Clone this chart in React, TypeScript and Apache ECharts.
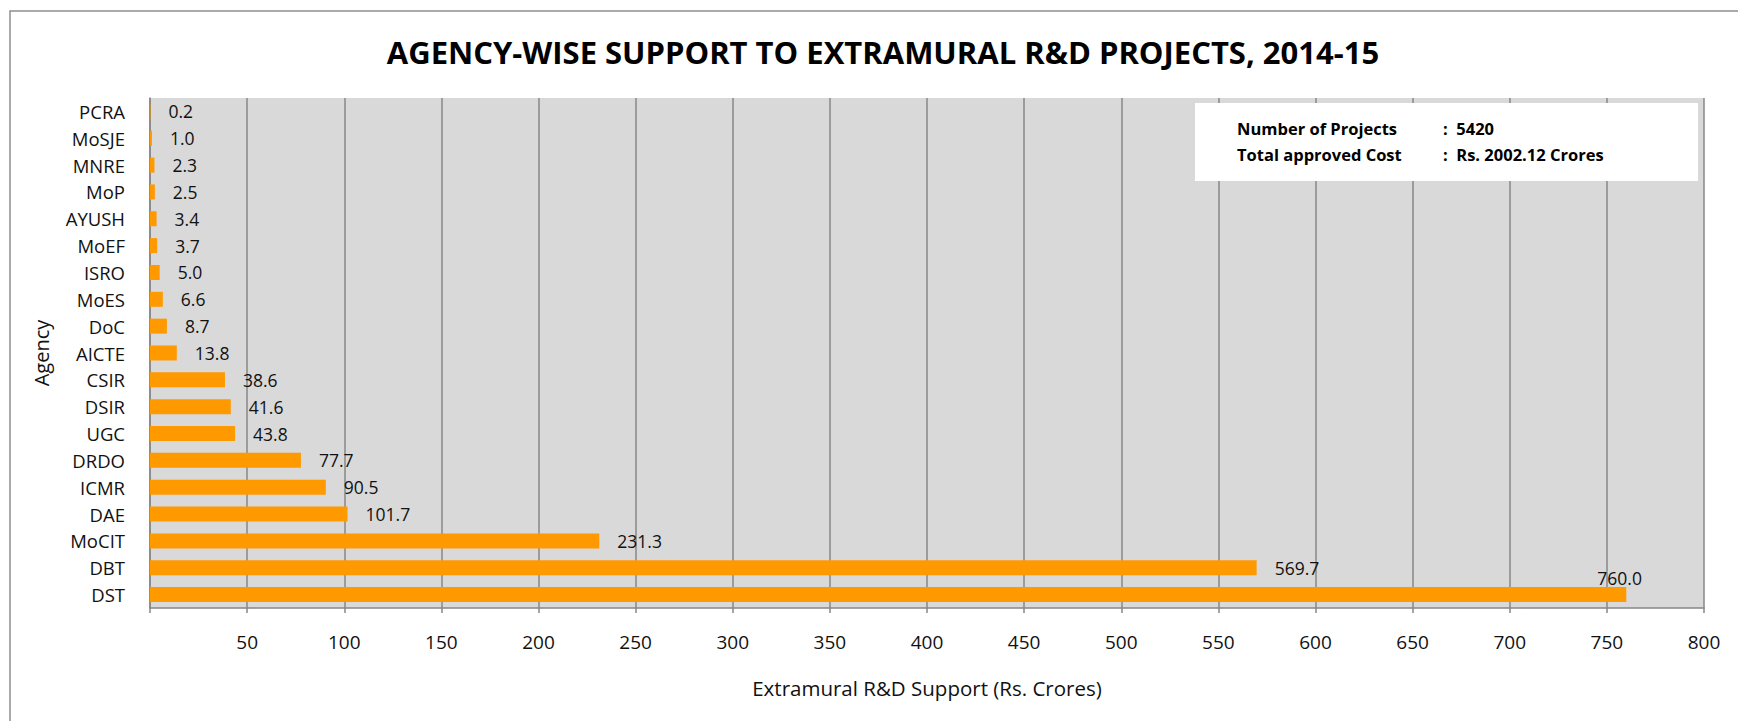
import React, { useEffect, useRef } from "react";
import * as echarts from "echarts";

const categories = [
  "DST", "DBT", "MoCIT", "DAE", "ICMR", "DRDO", "UGC", "DSIR", "CSIR", "AICTE",
  "DoC", "MoES", "ISRO", "MoEF", "AYUSH", "MoP", "MNRE", "MoSJE", "PCRA",
];
const values = [
  760.0, 569.7, 231.3, 101.7, 90.5, 77.7, 43.8, 41.6, 38.6, 13.8,
  8.7, 6.6, 5.0, 3.7, 3.4, 2.5, 2.3, 1.0, 0.2,
];
const xTicks = { min: 0, max: 800, interval: 50 };
const titleText = "AGENCY-WISE SUPPORT TO EXTRAMURAL R&D PROJECTS, 2014-15";
const infoLabels = ["Number of Projects", "Total approved Cost"];
const infoValues = [":  5420", ":  Rs. 2002.12 Crores"];

const FONT = "'Open Sans', 'Noto Sans', sans-serif";
const GRID_COLOR = "#878787";

export default function App() {
  const ref = useRef<HTMLDivElement>(null);

  useEffect(() => {
    if (!ref.current) return;
    const chart = echarts.init(ref.current, undefined, { renderer: "svg" });

    const data = values.map((v, i) => {
      if (categories[i] === "DST") {
        return {
          value: v,
          label: { offset: [-47, -17] },
        };
      }
      return v;
    });

    chart.setOption({
      animation: false,
      backgroundColor: "#ffffff",
      textStyle: { fontFamily: FONT },
      grid: { left: 150, right: 34, top: 98, bottom: 113, containLabel: false },
      xAxis: {
        type: "value",
        min: xTicks.min,
        max: xTicks.max,
        interval: xTicks.interval,
        name: "Extramural R&D Support (Rs. Crores)",
        nameLocation: "middle",
        nameGap: 69,
        nameTextStyle: { fontSize: 20.5, color: "#111", fontFamily: FONT },
        axisLine: { show: true, lineStyle: { color: GRID_COLOR, width: 1.5 } },
        axisTick: { show: true, length: 5, lineStyle: { color: GRID_COLOR, width: 1.5 } },
        axisLabel: {
          fontSize: 19,
          color: "#111",
          margin: 24,
          fontFamily: FONT,
          formatter: (v: number) => (v === 0 ? "" : String(v)),
        },
        splitLine: { show: true, lineStyle: { color: GRID_COLOR, width: 1.5 } },
      },
      yAxis: {
        type: "category",
        data: categories,
        name: "Agency",
        nameLocation: "middle",
        nameGap: 99,
        nameRotate: 90,
        nameTextStyle: { fontSize: 20, color: "#111", fontFamily: FONT },
        axisLine: { show: true, lineStyle: { color: GRID_COLOR, width: 1.5 } },
        axisTick: { show: false },
        axisLabel: { fontSize: 18.5, color: "#111", margin: 25, fontFamily: FONT },
        splitLine: { show: false },
        splitArea: { show: false },
      },
      series: [
        {
          type: "bar",
          data,
          barWidth: 15,
          itemStyle: { color: "#ff9900" },
          label: {
            show: true,
            position: "right",
            distance: 18,
            fontSize: 17.5,
            color: "#111",
            fontFamily: FONT,
            formatter: (p: any) => Number(p.value).toFixed(1),
          },
          z: 3,
        },
      ],
      graphic: [
        {
          type: "rect",
          z: -10,
          silent: true,
          shape: { x: 150, y: 98, width: 1554, height: 510 },
          style: { fill: "#d9d9d9" },
        },
        {
          type: "rect",
          z: -11,
          silent: true,
          shape: { x: 10, y: 11, width: 1800, height: 800 },
          style: { fill: "none", stroke: "#8f8f8f", lineWidth: 1.5 },
        },
        {
          type: "text",
          x: 883,
          y: 52,
          style: {
            text: titleText,
            fontSize: 31,
            fontWeight: "bold",
            fontFamily: FONT,
            fill: "#000",
            textAlign: "center",
            textVerticalAlign: "middle",
          },
        },
        {
          type: "rect",
          z: 10,
          shape: { x: 1195, y: 103, width: 503, height: 78 },
          style: { fill: "#ffffff" },
        },
        ...infoLabels.map((t, i) => ({
          type: "text",
          z: 11,
          x: 1237,
          y: 128.5 + i * 25.5,
          style: {
            text: t,
            fontSize: 16.5,
            fontWeight: "bold",
            fontFamily: FONT,
            fill: "#000",
            textAlign: "left",
            textVerticalAlign: "middle",
          },
        })),
        ...infoValues.map((t, i) => ({
          type: "text",
          z: 11,
          x: 1443,
          y: 128.5 + i * 25.5,
          style: {
            text: t,
            fontSize: 16.5,
            fontWeight: "bold",
            fontFamily: FONT,
            fill: "#000",
            textAlign: "left",
            textVerticalAlign: "middle",
          },
        })),
      ],
    });

    return () => chart.dispose();
  }, []);

  return (
    <div
      ref={ref}
      style={{ position: "absolute", left: 0, top: 0, width: 1738, height: 721 }}
    />
  );
}
